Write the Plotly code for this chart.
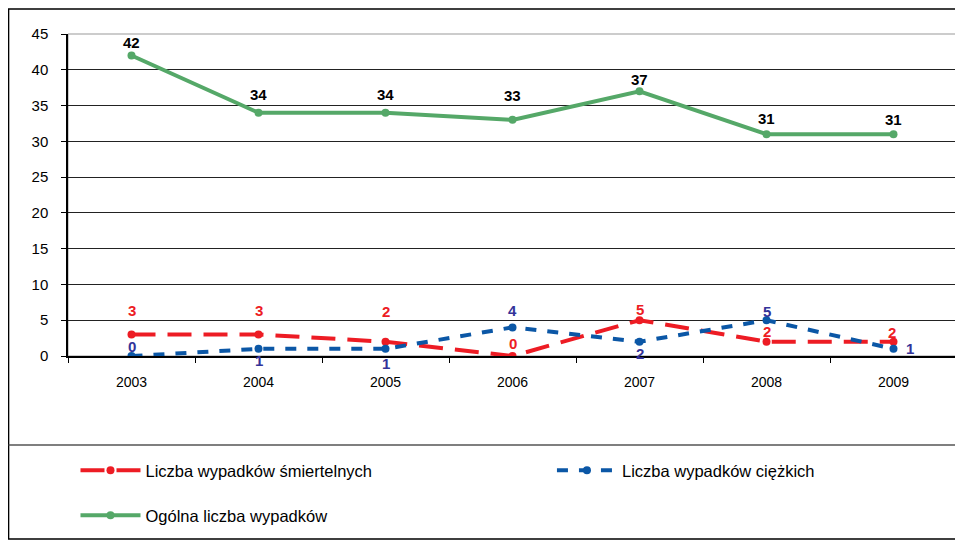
import plotly.graph_objects as go

years = ["2003", "2004", "2005", "2006", "2007", "2008", "2009"]
smiertelne = [3, 3, 2, 0, 5, 2, 2]
ciezkie = [0, 1, 1, 4, 2, 5, 1]
ogolna = [42, 34, 34, 33, 37, 31, 31]

# label offsets (pixels) relative to each point
red_dy = [24, 24, 30, 13, 11, 10, 9]
red_dx = [0, 0, 0, 0, 0, 0, -2]
blue_dy = [10, -12, -15, 17, -12, 9, 0]
blue_dx = [0, 0, 0, 0, 0, 0, 16]
green_dy = [13, 18, 18, 24, 12, 16, 15]

RED = "#ED1C24"
BLUE = "#0B57A6"
GREEN = "#55A868"
NAVY = "#333399"

OFF = 8  # page body margin
W, H = 963, 543
# plot area in screen pixels
SX0, SX1, SY0, SY1 = 67.5, 957.5, 34, 356
L, T = SX0 - OFF, SY0 - OFF
R = W - (SX1 - OFF)
B = H - (SY1 - OFF)
pw = SX1 - SX0
ph = SY1 - SY0

def px(xs):
    return (xs - SX0) / pw

def py(ys):
    return (SY1 - ys) / ph

fig = go.Figure()
fig.add_trace(go.Scatter(
    x=years, y=smiertelne, name="Liczba wypadków śmiertelnych", mode="lines+markers",
    line=dict(color=RED, width=4, dash="24px,12px"), marker=dict(size=8, color=RED),
    legend="legend"))
fig.add_trace(go.Scatter(
    x=years, y=ciezkie, name="Liczba wypadków ciężkich", mode="lines+markers",
    line=dict(color=BLUE, width=4, dash="11px,11px"), marker=dict(size=8, color=BLUE),
    legend="legend2"))
fig.add_trace(go.Scatter(
    x=years, y=ogolna, name="Ogólna liczba wypadków", mode="lines+markers",
    line=dict(color=GREEN, width=4), marker=dict(size=8, color=GREEN),
    legend="legend3"))

annotations = []
def add_labels(vals, dxs, dys, color):
    for i, (v, dx, dy) in enumerate(zip(vals, dxs, dys)):
        annotations.append(dict(x=i, y=v, xref="x", yref="y", text=f"<b>{v}</b>",
                                showarrow=False, xshift=dx, yshift=dy,
                                font=dict(color=color, size=15, family="Liberation Sans")))

add_labels(smiertelne, red_dx, red_dy, RED)
add_labels(ciezkie, blue_dx, blue_dy, NAVY)
add_labels(ogolna, [0] * 7, green_dy, "black")

frame = "#555555"
shapes = [
    dict(type="rect", xref="paper", yref="paper", x0=px(8), x1=px(990), y0=py(539), y1=py(9),
         line=dict(color="black", width=1.5), layer="below"),
    dict(type="line", xref="paper", yref="paper", x0=px(8), x1=px(990), y0=py(445), y1=py(445),
         line=dict(color=frame, width=1.5)),
    dict(type="rect", xref="paper", yref="paper", x0=0, x1=1, y0=0, y1=1,
         line=dict(color="#999999", width=1), layer="below"),
]

leg_common = dict(orientation="h", xanchor="left", yanchor="top",
                  font=dict(size=16.5), bgcolor="rgba(0,0,0,0)", itemwidth=60)

fig.update_layout(
    width=W, height=H,
    margin=dict(l=L, r=R, t=T, b=B, autoexpand=False),
    paper_bgcolor="white", plot_bgcolor="white",
    font=dict(family="Liberation Sans", size=14, color="black"),
    showlegend=True,
    shapes=shapes,
    annotations=annotations,
    xaxis=dict(type="category", tickson="boundaries", ticks="outside", ticklen=5,
               tickcolor="black", showline=True, linecolor="black", linewidth=1.5,
               showgrid=False, tickfont=dict(size=14), range=[-0.5, 6.5],
               ticklabelstandoff=12),
    yaxis=dict(range=[0, 45], dtick=5, ticks="outside", ticklen=5, tickcolor="black",
               showline=True, linecolor="black", linewidth=1.5,
               showgrid=True, gridcolor="#222222", gridwidth=1, zeroline=False,
               tickfont=dict(size=15), ticklabelstandoff=10),
    legend=dict(x=px(75), y=py(453), **leg_common),
    legend2=dict(x=px(552), y=py(453), **leg_common),
    legend3=dict(x=px(75), y=py(498), **leg_common),
)

fig.write_html("out.html")
